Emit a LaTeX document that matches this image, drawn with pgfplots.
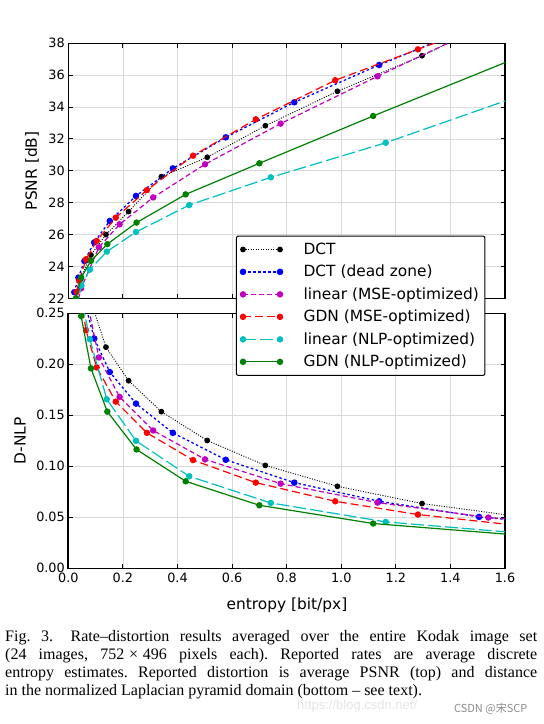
\documentclass[border=0pt]{standalone}
\usepackage{pgfplots}
\pgfplotsset{compat=1.18}
\usepackage{fontspec}
\setmainfont{DejaVu Sans}
\newfontfamily\capfont{Liberation Serif}
\newfontfamily\urlfont{Liberation Sans}
\newfontfamily\cjk{Noto Sans CJK SC}
\definecolor{mplc}{rgb}{0,0.75,0.75}
\definecolor{mplm}{rgb}{0.75,0,0.75}
\definecolor{mplg}{rgb}{0,0.5,0}
\pgfplotsset{
  rdaxis/.style={
    scale only axis, width=436.7pt, height=255pt,
    xmin=0, xmax=1.6,
    xtick={0,0.2,0.4,0.6,0.8,1.0,1.2,1.4,1.6},
    axis line style={line width=1.6pt},
    grid=major, major grid style={line width=0.7pt, black!15},
    major tick length=4.5pt,
    every tick/.style={black, line width=0.9pt},
    tick label style={font=\fontsize{12.8}{14}\selectfont},
    label style={font=\fontsize{15.4}{17}\selectfont},
    /pgf/number format/assume math mode=true,
    clip marker paths=true,
    legend image code/.code={\draw[##1] plot coordinates {(0pt,0pt) (37pt,0pt)};},
  },
  sDCT/.style={black, line width=0.9pt, dash pattern=on 1pt off 1.5pt, mark=*, mark size=2.4pt, mark options={solid}},
  sDZ/.style={blue, line width=1.3pt, dash pattern=on 2.5pt off 2.5pt, mark=*, mark size=2.6pt, mark options={solid}},
  sLM/.style={mplm, line width=1.2pt, dash pattern=on 5pt off 3pt, mark=*, mark size=2.6pt, mark options={solid}},
  sGM/.style={red, line width=1.2pt, dash pattern=on 8pt off 4pt, mark=*, mark size=2.6pt, mark options={solid}},
  sLN/.style={mplc, line width=1.2pt, dash pattern=on 13pt off 4pt, mark=*, mark size=2.6pt, mark options={solid}},
  sGN/.style={mplg, line width=1.2pt, mark=*, mark size=2.6pt, mark options={solid}},
}
\begin{document}
\begin{tikzpicture}[x=1pt,y=1pt]
% ---------- top: PSNR ----------
\begin{axis}[rdaxis,
  at={(68.3pt,-298.3pt)}, anchor=south west,
  ymin=22, ymax=38, ytick={22,24,...,38},
  xticklabels={},
  ylabel={PSNR [dB]},
  ylabel style={at={(axis description cs:-0.083,0.5)}, anchor=center},
]
\addplot[sDCT] coordinates {(0.045,23.2) (0.083,24.72) (0.138,26.0) (0.221,27.44) (0.341,29.63) (0.509,30.85) (0.722,32.83) (0.986,34.99) (1.296,37.22) (1.70,40.5)};
\addplot[sDZ] coordinates {(0.022,22.38) (0.037,23.3) (0.059,24.34) (0.095,25.51) (0.152,26.85) (0.248,28.42) (0.383,30.15) (0.577,32.10) (0.828,34.30) (1.139,36.64) (1.505,39.2)};
\addplot[sLM] coordinates {(0.030,21.5) (0.047,22.63) (0.112,25.2) (0.188,26.64) (0.311,28.33) (0.501,30.41) (0.778,32.96) (1.133,35.93) (1.539,39.2)};
\addplot[sGM] coordinates {(0.030,22.4) (0.040,23.1) (0.065,24.45) (0.104,25.6) (0.174,27.06) (0.288,28.79) (0.457,30.95) (0.687,33.23) (0.978,35.68) (1.281,37.62) (1.70,40.3)};
\addplot[sLN] coordinates {(0.030,21.3) (0.048,22.8) (0.079,23.8) (0.141,24.93) (0.248,26.16) (0.443,27.85) (0.742,29.59) (1.163,31.76) (1.75,35.28)};
\addplot[sGN] coordinates {(0.028,22.0) (0.047,23.3) (0.083,24.35) (0.143,25.4) (0.250,26.75) (0.430,28.52) (0.700,30.47) (1.117,33.44) (1.75,37.83)};
\end{axis}
% ---------- bottom: D-NLP ----------
\begin{axis}[rdaxis,
  at={(68.3pt,-568.3pt)}, anchor=south west,
  ymin=0, ymax=0.25, ytick={0,0.05,0.10,0.15,0.20,0.25},
  yticklabel style={/pgf/number format/.cd, fixed, fixed zerofill, precision=2},
  xticklabel style={yshift=-1pt, /pgf/number format/.cd, fixed, fixed zerofill, precision=1},
  xlabel={entropy [bit/px]},
  ylabel={D-NLP},
  xlabel style={at={(axis description cs:0.5008,-0.1445)}, anchor=center},
  ylabel style={at={(axis description cs:-0.1106,0.5)}, anchor=center},
  legend cell align=left,
  legend style={at={(axis description cs:0.955,1.305)}, anchor=north east,
    draw=black, line width=1pt, fill=white, rounded corners=2pt,
    font=\fontsize{15.4}{17}\selectfont, row sep=5.3pt, column sep=19pt,
    inner xsep=4pt, inner ysep=5pt},
]
\addplot[sDCT] coordinates {(0.045,0.32) (0.083,0.262) (0.138,0.2168) (0.221,0.1839) (0.341,0.1536) (0.509,0.1253) (0.722,0.1009) (0.986,0.0804) (1.296,0.0635) (1.70,0.0490)};
\addlegendentry{DCT}
\addplot[sDZ] coordinates {(0.022,0.35) (0.037,0.30) (0.059,0.262) (0.095,0.2253) (0.152,0.1924) (0.248,0.1615) (0.383,0.1328) (0.577,0.1064) (0.828,0.0840) (1.139,0.0657) (1.505,0.0504) (1.95,0.0397)};
\addlegendentry{DCT (dead zone)}
\addplot[sLM] coordinates {(0.030,0.34) (0.047,0.29) (0.112,0.2067) (0.188,0.168) (0.311,0.1351) (0.501,0.1068) (0.778,0.0830) (1.133,0.0644) (1.539,0.0498) (2.0,0.040)};
\addlegendentry{linear (MSE-optimized)}
\addplot[sGM] coordinates {(0.030,0.30) (0.040,0.275) (0.065,0.2334) (0.104,0.197) (0.174,0.1634) (0.288,0.1328) (0.457,0.1061) (0.687,0.0840) (0.978,0.0657) (1.281,0.0527) (1.70,0.0404)};
\addlegendentry{GDN (MSE-optimized)}
\addplot[sLN] coordinates {(0.030,0.31) (0.048,0.265) (0.079,0.2246) (0.141,0.1657) (0.248,0.1250) (0.443,0.0902) (0.742,0.0641) (1.163,0.0455) (1.75,0.0325)};
\addlegendentry{linear (NLP-optimized)}
\addplot[sGN] coordinates {(0.028,0.29) (0.047,0.2473) (0.083,0.196) (0.143,0.1536) (0.250,0.1165) (0.430,0.0853) (0.700,0.0618) (1.117,0.0439) (1.75,0.0304)};
\addlegendentry{GDN (NLP-optimized)}
\end{axis}
% ---------- caption ----------
\node[anchor=north west, inner sep=0pt, text width=532pt, align=justify,
  font=\capfont\fontsize{16}{18.2}\selectfont] at (5,-630)
  {\frenchspacing\hyphenpenalty=10000\tolerance=9999 Fig.~3.\hspace{1.1em}Rate–distortion results averaged over the entire Kodak image set\linebreak
  (24 images, 752\hspace{0.3em}×\hspace{0.3em}496 pixels each). Reported rates are average discrete\linebreak
  entropy estimates. Reported distortion is average PSNR (top) and distance\linebreak
  in the normalized Laplacian pyramid domain (bottom – see text).};
\node[anchor=west, inner sep=0pt, text=black!10, font=\urlfont\fontsize{13}{15}\selectfont] at (297,-706) {https://blog.csdn.net/};
\node[anchor=east, inner sep=1.5pt, fill=white, text=black!45, font=\cjk\fontsize{11}{13}\selectfont] at (529,-709) {CSDN @宋SCP};
\pgfresetboundingbox
\path[use as bounding box] (0,0) rectangle (544,-724);
\end{tikzpicture}
\end{document}
